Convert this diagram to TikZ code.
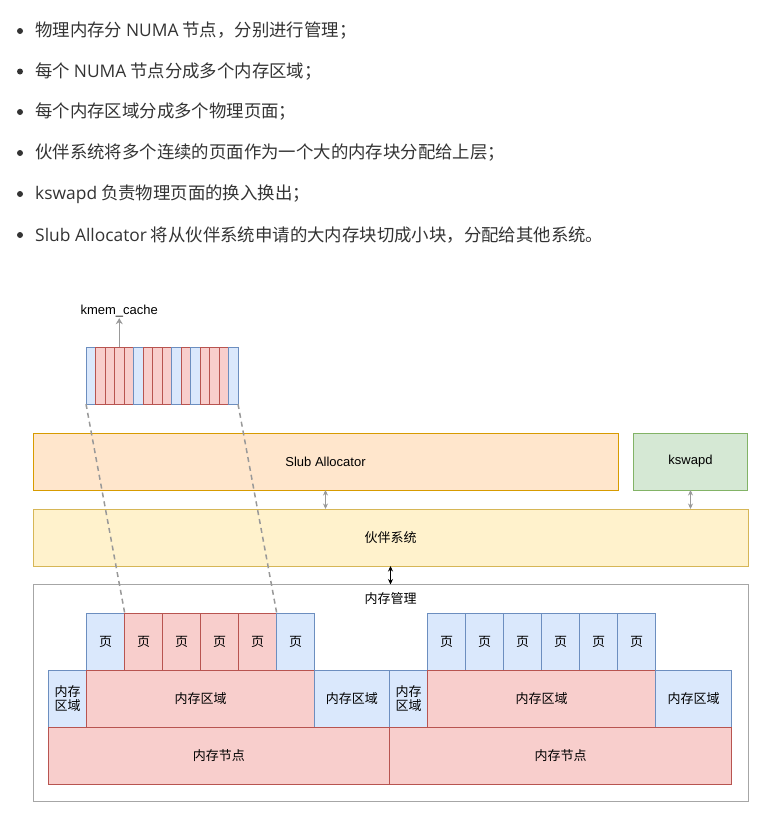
\documentclass[tikz,border=0pt]{standalone}
\usepackage{fontspec}
\setmainfont{Liberation Sans}
\newfontfamily\cjk{Noto Sans CJK SC}
\newfontfamily\bodylatin{Open Sans}
\usetikzlibrary{arrows.meta}
\definecolor{blueFill}{HTML}{DAE8FC}
\definecolor{blueLine}{HTML}{6C8EBF}
\definecolor{redFill}{HTML}{F8CECC}
\definecolor{redLine}{HTML}{B85450}
\definecolor{orangeFill}{HTML}{FFE6CC}
\definecolor{orangeLine}{HTML}{D79B00}
\definecolor{yellowFill}{HTML}{FFF2CC}
\definecolor{yellowLine}{HTML}{D6B656}
\definecolor{greenFill}{HTML}{D5E8D4}
\definecolor{greenLine}{HTML}{82B366}
\definecolor{textGray}{HTML}{333333}
\definecolor{frameGray}{HTML}{A6A6A6}
\definecolor{arrowGray}{HTML}{999999}
\newcommand{\latinpart}[1]{{\bodylatin #1}}
\tikzset{
	box/.style={draw, line width=1pt, anchor=north west, inner sep=0pt, outer sep=0pt, align=center, font=\fontsize{13}{14.5}\selectfont},
	cn/.style={font=\cjk\fontsize{13}{14.5}\selectfont},
	blueBox/.style={box, cn, fill=blueFill, draw=blueLine},
	redBox/.style={box, cn, fill=redFill, draw=redLine},
	cell/.style={minimum width=#1, minimum height=57pt},
	bulletText/.style={anchor=west, inner sep=0pt, text=textGray, font=\cjk\fontsize{17.4}{20}\selectfont},
	dblArrow/.style={{Stealth[length=5.5pt,width=5pt]}-{Stealth[length=5.5pt,width=5pt]}, line width=1pt},
	dashLine/.style={draw=arrowGray, line width=1.5pt, dash pattern=on 5pt off 4pt}
}
\begin{document}
\begin{tikzpicture}[x=1pt,y=-1pt]
	\useasboundingbox (0,0) rectangle (769,822);
	% bullet list
	\foreach \y in {31,71.5,112,153,194,235}
		\fill[textGray] (20,\y) circle (3pt);
	\node[bulletText] (b1) at (35,31) {物理内存分 \latinpart{NUMA} 节点，分别进行管理；};
	\node[bulletText] (b2) at (35,71.5) {每个 \latinpart{NUMA} 节点分成多个内存区域；};
	\node[bulletText] (b3) at (35,112) {每个内存区域分成多个物理页面；};
	\node[bulletText] (b4) at (35,153) {伙伴系统将多个连续的页面作为一个大的内存块分配给上层；};
	\node[bulletText] (b5) at (35,194) {\latinpart{kswapd} 负责物理页面的换入换出；};
	\node[bulletText] (b6) at (35,235) {\latinpart{Slub Allocator} 将从伙伴系统申请的大内存块切成小块，分配给其他系统。};
	% kmem_cache
	\foreach \c [count=\i from 0] in {blue,red,red,red,red,blue,red,red,red,blue,red,blue,red,red,red,blue}
		\node[\c Box, cell=9.5pt] (k\i) at (86+\i*9.5,347) {};
	\node[font=\fontsize{13}{15}\selectfont, inner sep=1pt] (kmem) at (119.25,311) {kmem\_cache};
	\draw[-{Stealth[length=6pt,width=7pt,inset=2pt]}, arrowGray, line width=1pt] (k3.north) -- (kmem.south);
	% layers
	\node[box, fill=orangeFill, draw=orangeLine, minimum width=585pt, minimum height=57pt] (slub) at (33,433) {Slub Allocator};
	\node[box, fill=greenFill, draw=greenLine, minimum width=114pt, minimum height=57pt] (kswapd) at (633.5,433) {kswapd};
	\node[box, cn, fill=yellowFill, draw=yellowLine, minimum width=715pt, minimum height=57pt] (buddy) at (33,509) {伙伴系统};
	\node[box, draw=frameGray, minimum width=715pt, minimum height=217pt] (mem) at (33,584.5) {};
	\node[cn, inner sep=0pt] (memLabel) at (390.5,598.5) {内存管理};
	\draw[dblArrow, arrowGray] (slub.south) -- (slub.south |- buddy.north);
	\draw[dblArrow, arrowGray] (kswapd.south) -- (kswapd.south |- buddy.north);
	\draw[dblArrow, black] (buddy.south) -- (mem.north);
	% node 1
	\foreach \c [count=\i from 0] in {blue,red,red,red,red,blue}
		\node[\c Box, cell=38pt] (p\i) at (86.7+\i*38,613) {页};
	\node[blueBox, cell=38.4pt] (z1) at (48.3,670) {内存\\区域};
	\node[redBox, cell=227.6pt] (z2) at (86.7,670) {内存区域};
	\node[blueBox, cell=75pt] (z3) at (314.3,670) {内存区域};
	\node[redBox, cell=341pt] (n1) at (48.3,727) {内存节点};
	% node 2
	\foreach \i in {0,...,5}
		\node[blueBox, cell=38pt] (q\i) at (427.7+\i*38,613) {页};
	\node[blueBox, cell=38.4pt] (z4) at (389.3,670) {内存\\区域};
	\node[redBox, cell=228pt] (z5) at (427.7,670) {内存区域};
	\node[blueBox, cell=76pt] (z6) at (655.7,670) {内存区域};
	\node[redBox, cell=342.4pt] (n2) at (389.3,727) {内存节点};
	% slab pages
	\draw[dashLine] (k0.south west) -- (p1.north west);
	\draw[dashLine] (k15.south east) -- (p4.north east);
\end{tikzpicture}
\end{document}
